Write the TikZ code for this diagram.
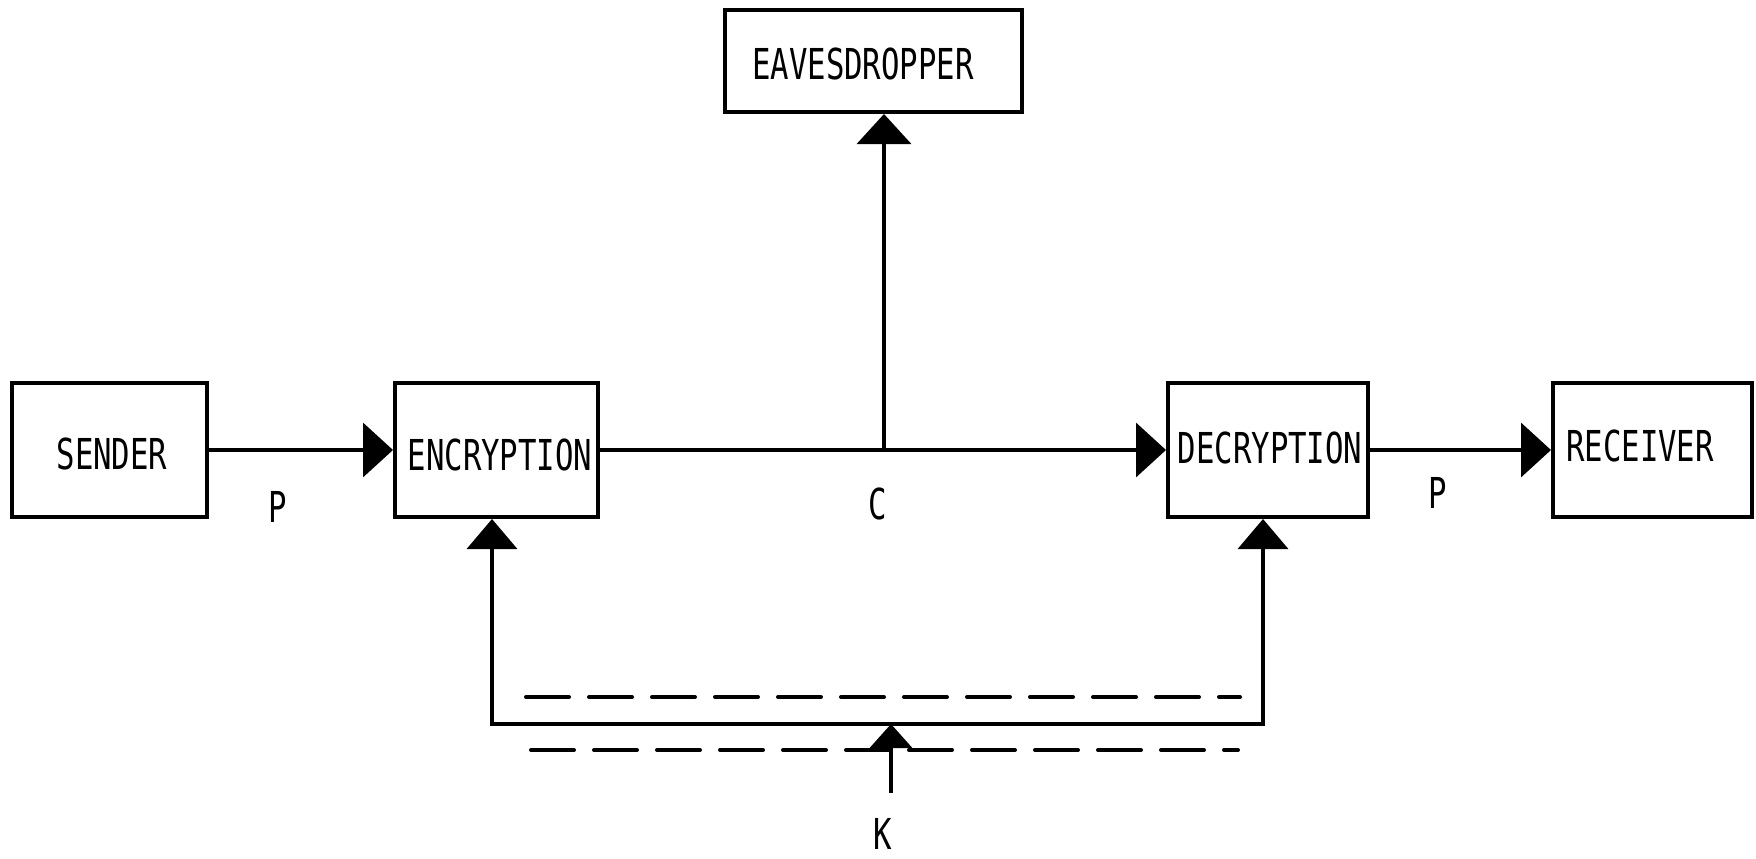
\documentclass[tikz,border=0pt]{standalone}
\usepackage{fontspec}
\newfontfamily\plotfont{DejaVu Sans Mono}[FakeStretch=0.72]
\usetikzlibrary{arrows.meta,calc}

\tikzset{
  blk/.style={draw, line width=2pt, minimum width=#1, minimum height=67pt, inner sep=0pt},
  txt/.style={font=\plotfont\fontsize{21.3pt}{23pt}\selectfont, inner sep=0pt},
  wire/.style={line width=1.8pt, line join=miter},
  arr/.style={wire, -{Triangle[length=15pt,width=27pt]}},
  keyarr/.style={wire, -{Triangle[length=12pt,width=21pt]}},
  twoarr/.style={wire, {Triangle[length=15pt,width=25pt]}-{Triangle[length=15pt,width=25pt]}},
  channel/.style={line width=2pt, dash pattern=on 21.5pt off 10pt, line cap=round},
}

\begin{document}
\begin{tikzpicture}[x=0.5pt, y=-0.5pt]
  \useasboundingbox (0,0) rectangle (1756,858);

  % blocks along the message path
  \node[blk=97.5pt]  (snd) at (109.5,450) {};
  \node[blk=101.5pt] (enc) at (496.5,450) {};
  \node[blk=100pt]   (dec) at (1268,450)  {};
  \node[blk=99.5pt]  (rcv) at (1652.5,450) {};
  \node[blk=148.5pt, minimum height=51pt] (eav) at (873.5,61) {};

  % block captions
  \node[txt] (sndT) at (112,454)  {SENDER};
  \node[txt] (encT) at (500,455)  {ENCRYPTION};
  \node[txt] (decT) at (1270,448) {DECRYPTION};
  \node[txt] (rcvT) at (1640,446) {RECEIVER};
  \node[txt] (eavT) at (863,64)   {EAVESDROPPER};

  % message path
  \draw[arr] (snd.east) -- (enc.west);
  \draw[arr] (enc.east) -- (dec.west);
  \draw[arr] (dec.east) -- (rcv.west);

  % tap to the eavesdropper
  \coordinate (tap) at (884,450);
  \draw[arr] (tap) -- (tap |- eav.south);

  % key distribution loop
  \coordinate (kl) at (492,724);
  \coordinate (kr) at (1263,724);
  \draw[twoarr] (kl |- enc.south) -- (kl) -- (kr) -- (kr |- dec.south);

  % key input
  \coordinate (ksrc) at (891,793);
  \draw[keyarr] (ksrc) -- (ksrc |- kl);

  % secure channel boundaries
  \draw[channel] (526,697) -- (1240,697);
  \draw[channel] (531,750) -- (1238,750);

  % signal labels
  \node[txt] (p1) at (278,507)  {P};
  \node[txt] (c)  at (878,504)  {C};
  \node[txt] (p2) at (1438,493) {P};
  \node[txt] (k)  at (883,834)  {K};
\end{tikzpicture}
\end{document}
